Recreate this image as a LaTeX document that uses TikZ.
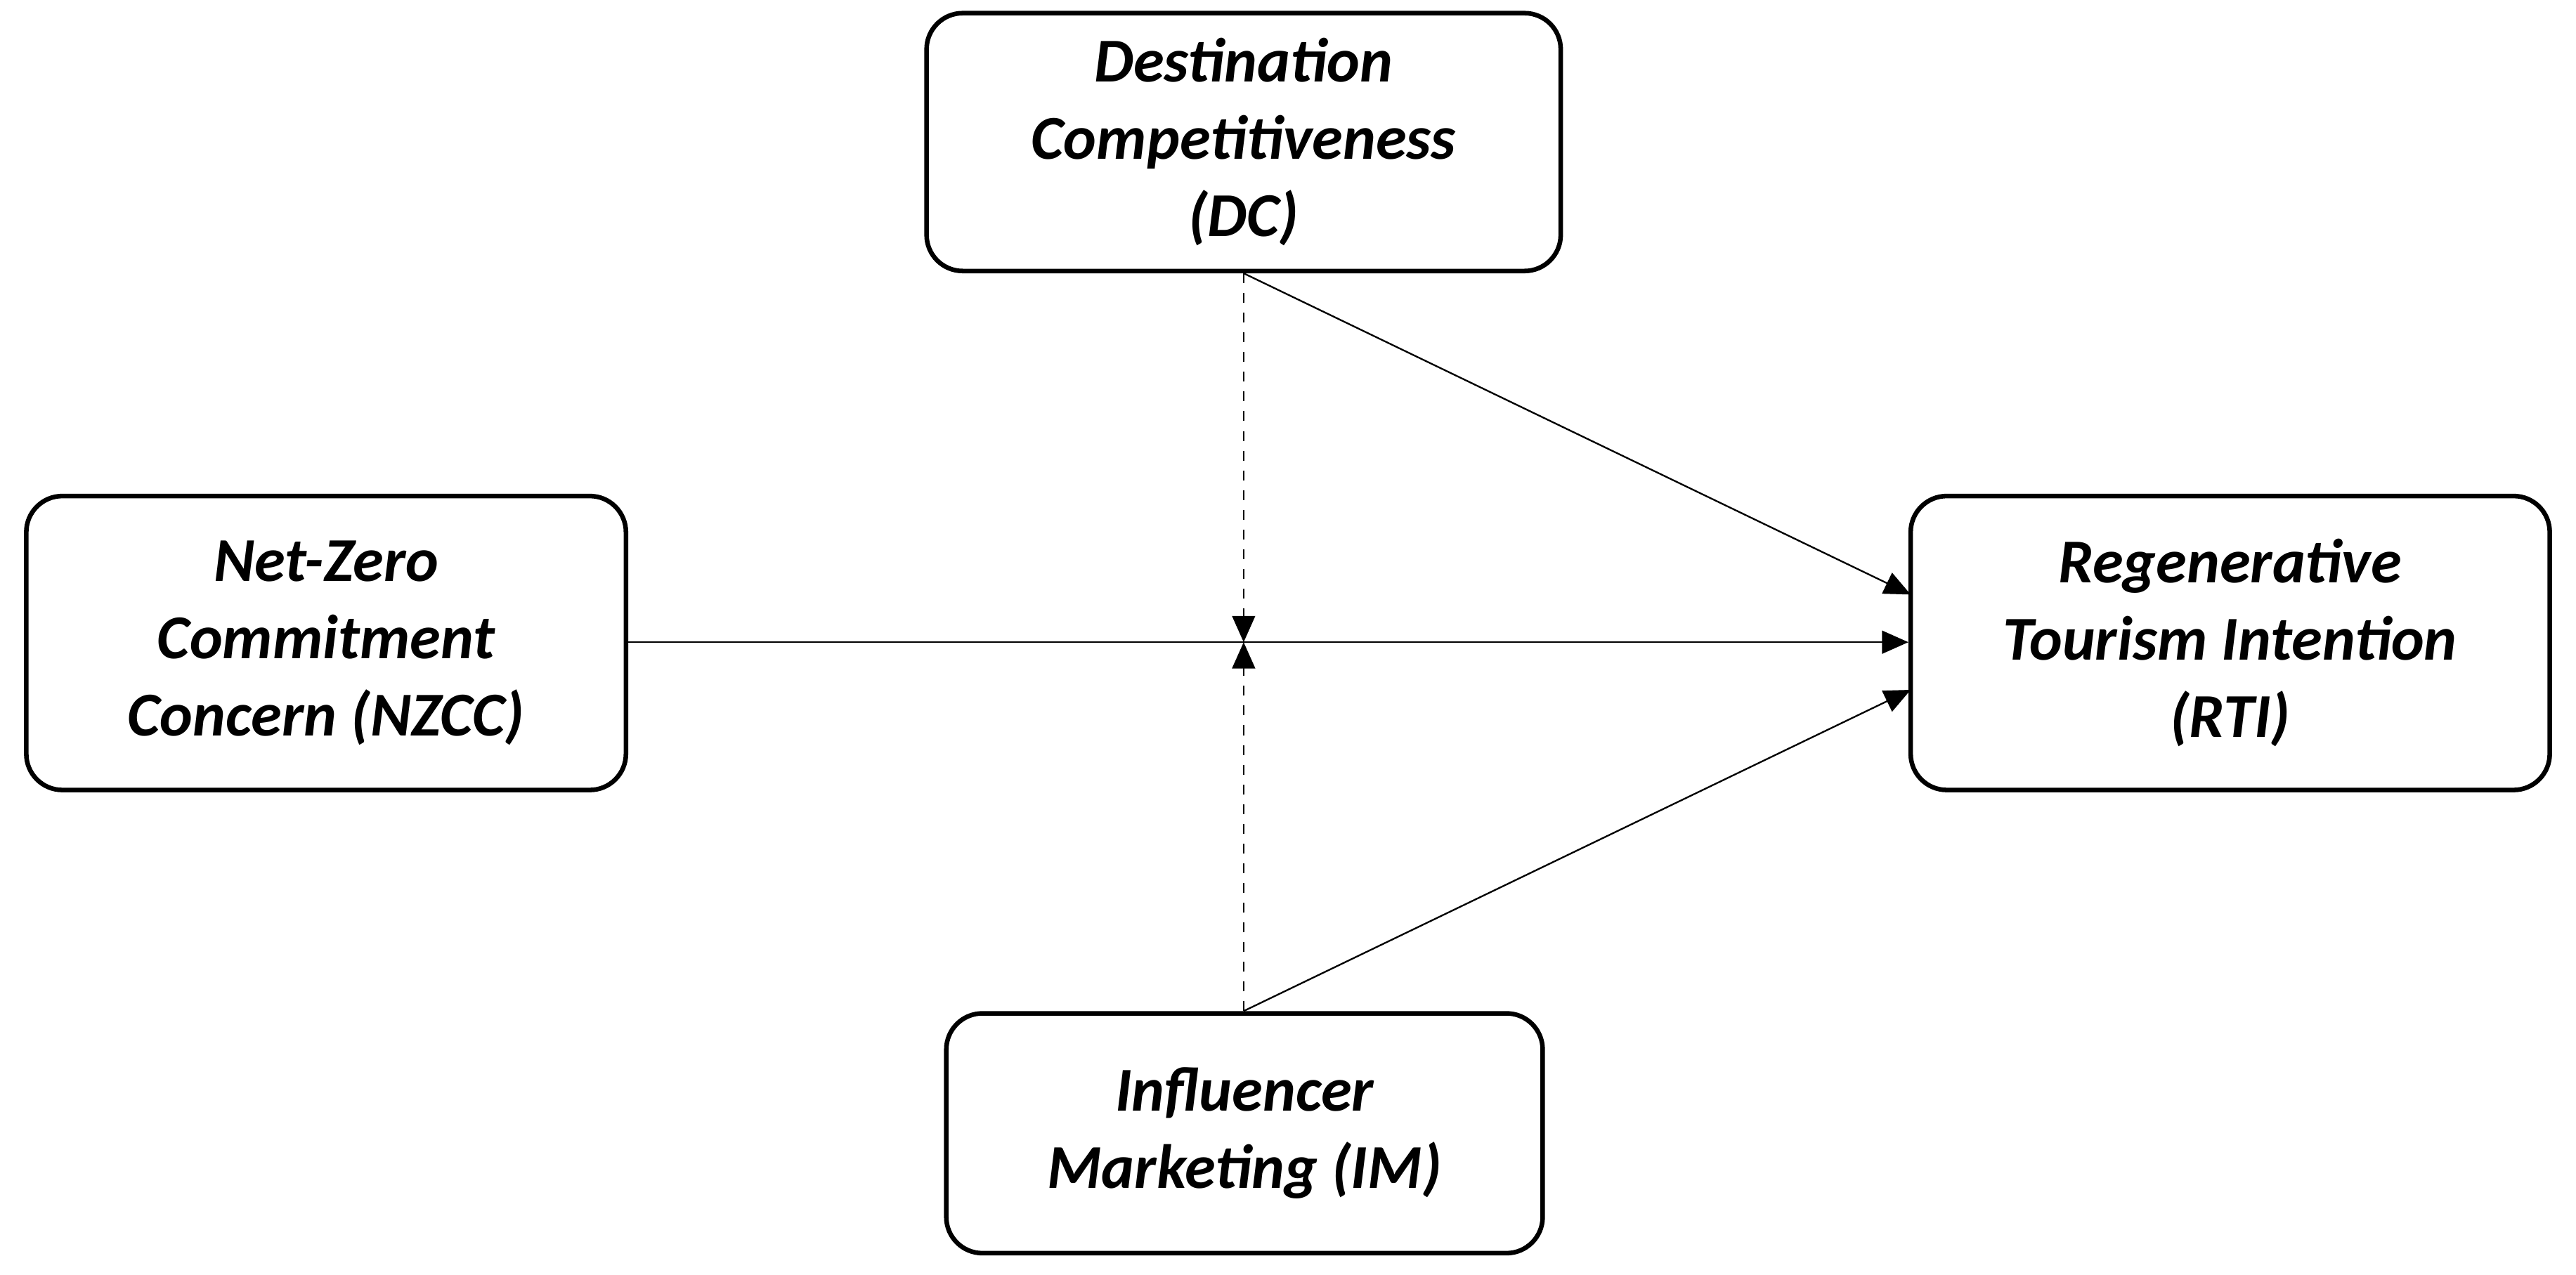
\documentclass[tikz,border=0pt]{standalone}
\usepackage{fontspec}
\setmainfont{Carlito}
\usetikzlibrary{arrows.meta}
\begin{document}
\begin{tikzpicture}[x=0.5pt,y=-0.5pt,
  box/.style={draw,line width=1.4pt,rounded corners=11pt,align=center,inner sep=0pt,
    font=\fontsize{19}{23.5}\selectfont\bfseries\itshape},
  arr/.style={line width=0.5pt,-{Triangle[length=8pt,width=7pt]}}]
\useasboundingbox (0,0) rectangle (1568,776);
\node[box,minimum width=193pt,minimum height=78.5pt] (dc) at (757,86.5) {Destination\\Competitiveness\\(DC)};
\node[box,minimum width=182.5pt,minimum height=89.5pt] (nz) at (198.5,391.5) {Net-Zero\\Commitment\\Concern (NZCC)};
\node[box,minimum width=194.5pt,minimum height=89.5pt] (rti) at (1357.5,391.5) {Regenerative\\Tourism Intention\\(RTI)};
\node[box,minimum width=181.5pt,minimum height=73pt] (im) at (757.5,690) {Influencer\\Marketing (IM)};
\coordinate (m) at (757,391);
\draw[arr] (nz.east |- m) -- (rti.west |- m);
\draw[arr,dashed] (dc.south) -- (m);
\draw[arr,dashed] (im.north -| m) -- (m);
\draw[arr] (dc.south) -- (1163,362);
\draw[arr] (im.north -| m) -- (1163,420);
\end{tikzpicture}
\end{document}
